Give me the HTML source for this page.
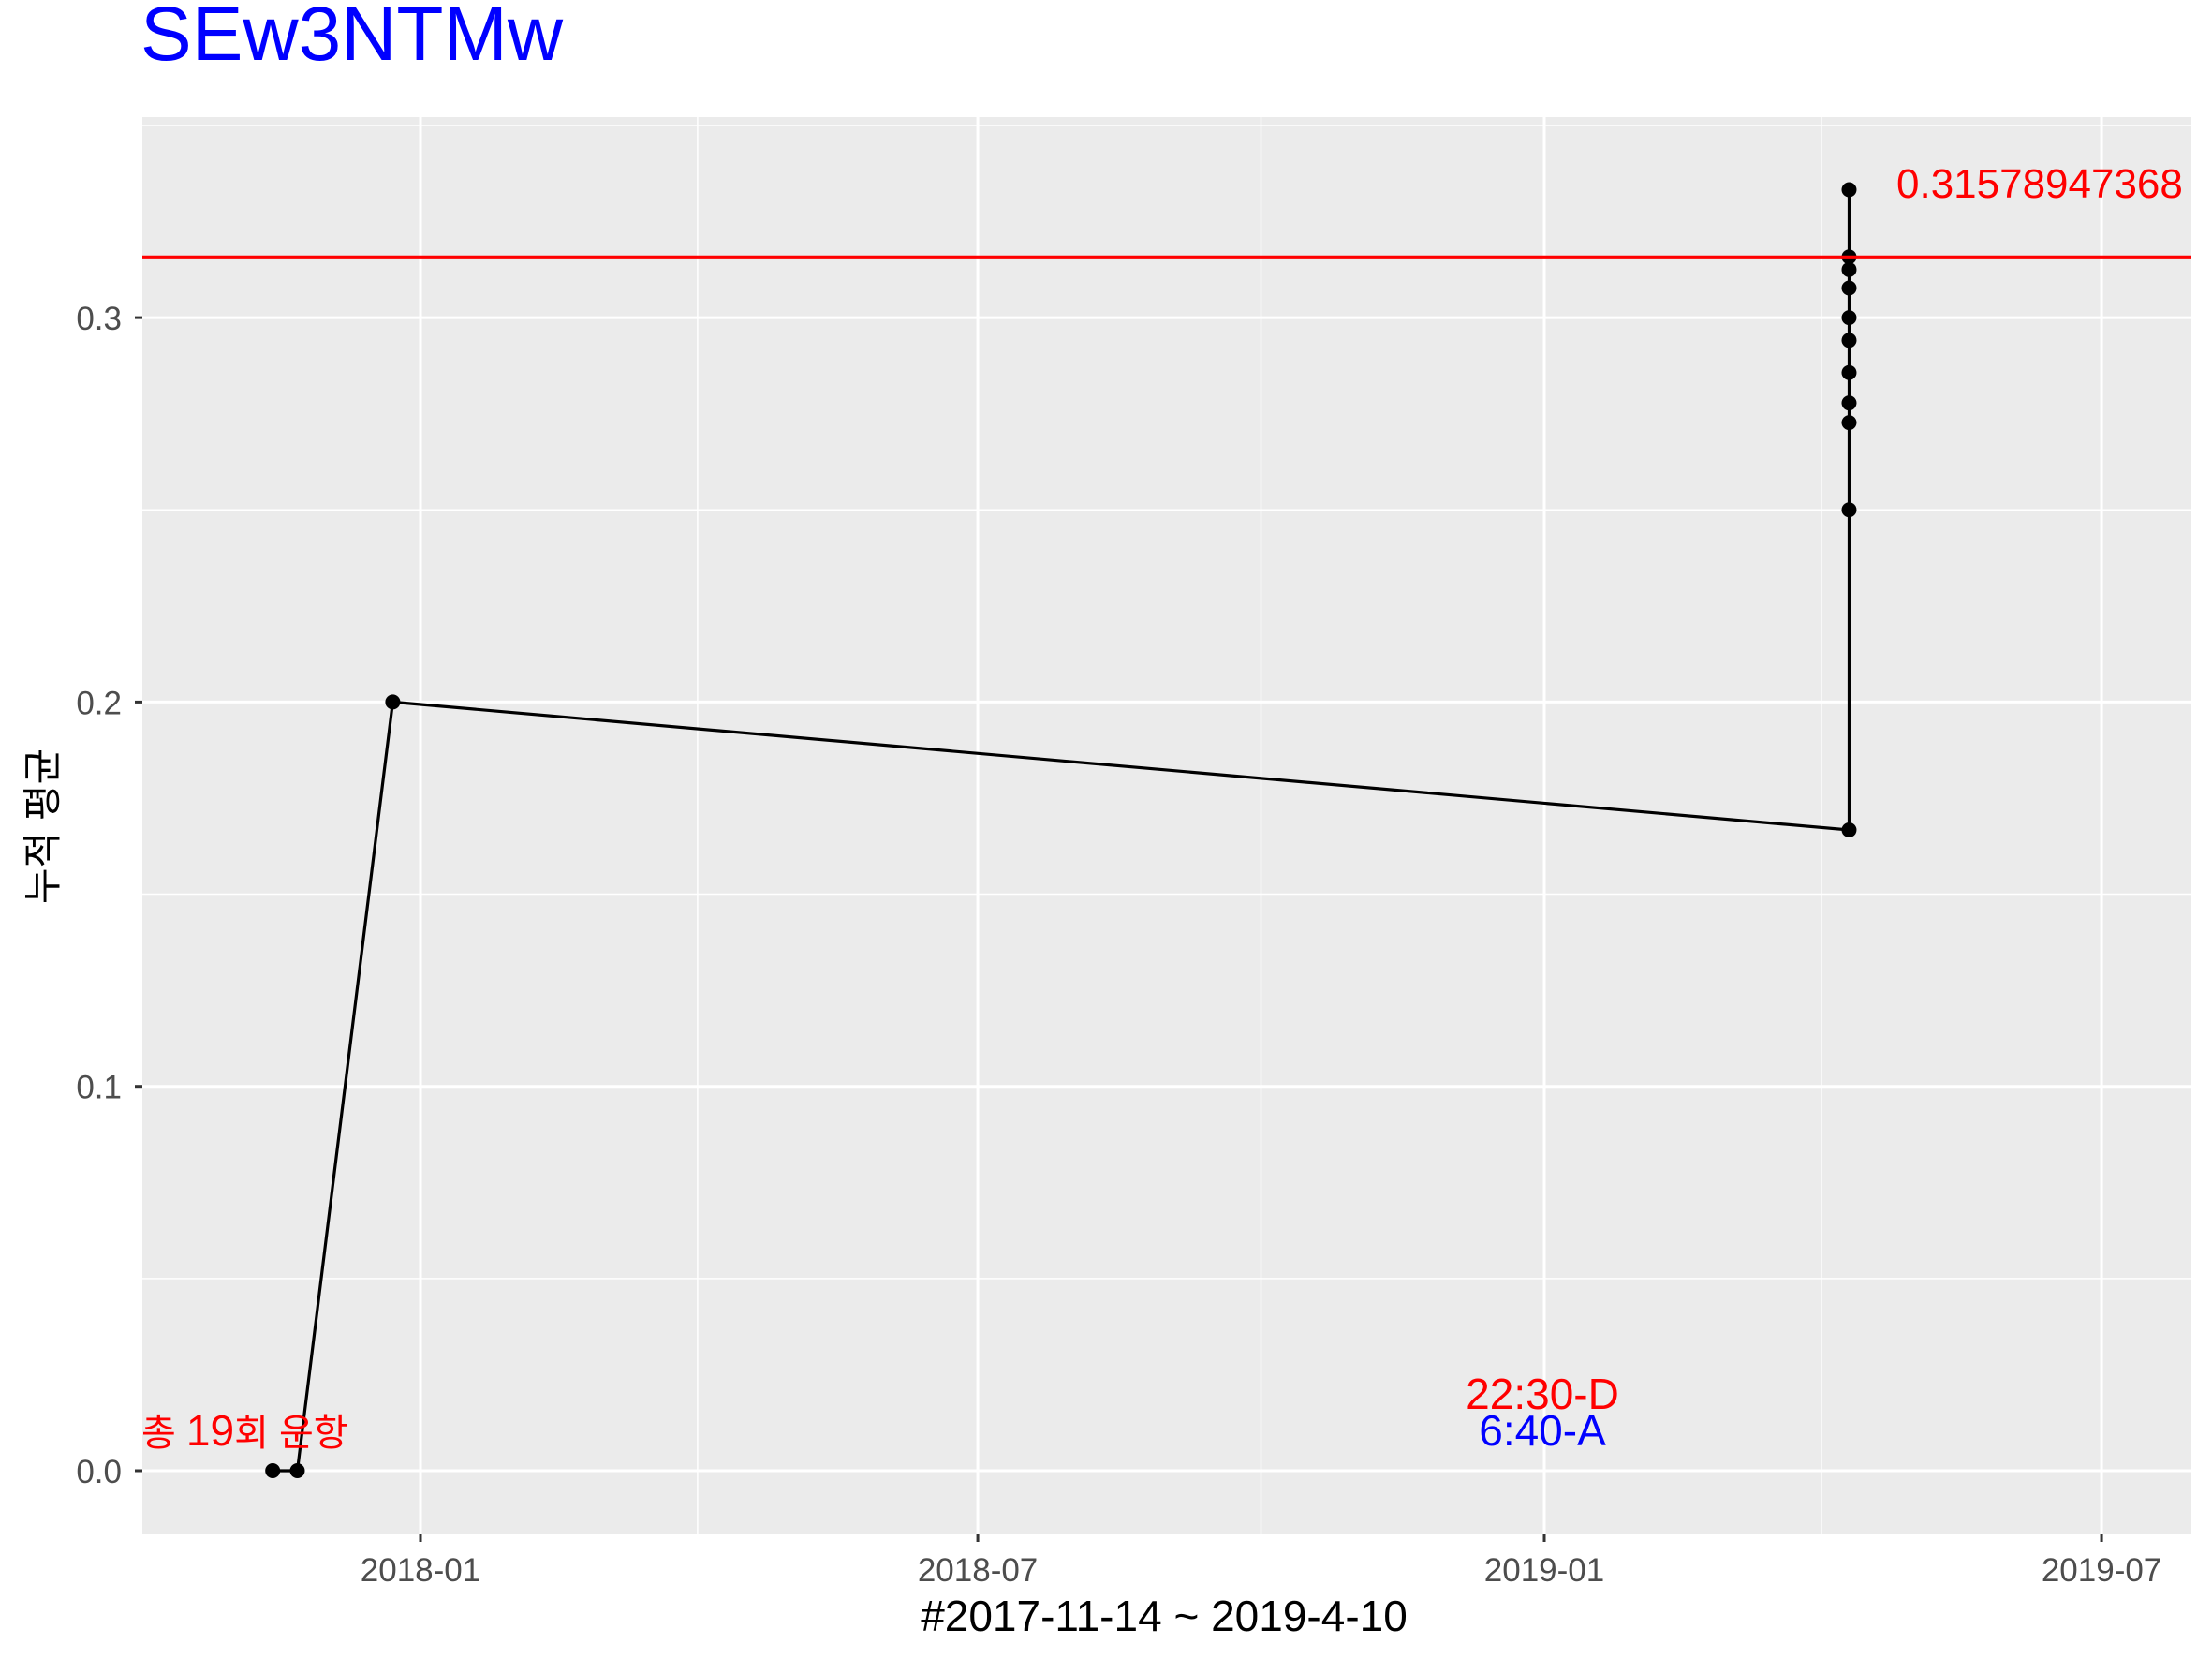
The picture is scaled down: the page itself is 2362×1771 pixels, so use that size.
<!DOCTYPE html>
<html><head><meta charset="utf-8"><style>
html,body{margin:0;padding:0;background:#fff;}
svg{display:block;font-family:"Liberation Sans","Noto Sans CJK KR",sans-serif;}
</style></head><body>
<svg id="chart" width="2362" height="1771" viewBox="0 0 2362 1771">
<text x="150" y="64" font-size="82" fill="#0000ff">SEw3NTMw</text>
<rect x="152" y="125" width="2188" height="1513" fill="#ebebeb"/>
<g id="grid"></g>
<g id="series"></g>
<g id="axes"></g>
<text x="1243" y="1741" font-size="46" text-anchor="middle" fill="#000">#2017-11-14 ~ 2019-4-10</text>
<text transform="translate(60,882) rotate(-90)" font-size="42" text-anchor="middle" fill="#000">누적 평균</text>
<text x="151" y="1543" font-size="40" fill="#ff0000">총 <tspan font-size="46">19</tspan>회 운항</text>
<text x="1647" y="1504" font-size="46" text-anchor="middle" fill="#ff0000">22:30-D</text>
<text x="1647" y="1543" font-size="46" text-anchor="middle" fill="#0000ff">6:40-A</text>
</svg>
<script>
const dates = ["2017-11-14","2017-11-22","2017-12-23","2019-04-10","2019-04-10","2019-04-10","2019-04-10","2019-04-10","2019-04-10","2019-04-10","2019-04-10","2019-04-10","2019-04-10","2019-04-10"];
const values = [0,0,0.2,0.1667,0.25,0.2727,0.2778,0.2857,0.2941,0.3,0.3077,0.3125,0.3333,0.3158];
const meanValue = [0.315789473684];
const meanLabel = ["0.31578947368"];
const yTicks = [0,0.1,0.2,0.3];
const yTickLabels = ["0.0","0.1","0.2","0.3"];
const xTicks = ["2018-01-01","2018-07-01","2019-01-01","2019-07-01"];
const xTickLabels = ["2018-01","2018-07","2019-01","2019-07"];
const xMinor = ["2017-10-01","2018-04-01","2018-10-01","2019-04-01"];
const yMinor = [0.05,0.15,0.25,0.35];

const NS="http://www.w3.org/2000/svg";
const P={l:152,r:2340,t:125,b:1638};
const d0=Date.parse("2018-01-01"), pxPerDay=(1649-449)/365;
function xs(d){return 449+(Date.parse(d)-d0)/86400000*pxPerDay;}
function ys(v){return 1570-v*4103;}
function mk(tag,attrs,parent){const e=document.createElementNS(NS,tag);for(const k in attrs)e.setAttribute(k,attrs[k]);parent.appendChild(e);return e;}
const grid=document.getElementById('grid'),ser=document.getElementById('series'),ax=document.getElementById('axes');
xMinor.forEach(d=>{const x=xs(d);if(x<P.l||x>P.r)return;
 const l=mk('line',{x1:x,x2:x,y1:P.t,y2:P.b,stroke:'#fff','stroke-width':1.5},grid);
 
 });
yMinor.forEach(v=>{const y=ys(v);if(y<P.t)return;
 const l=mk('line',{x1:P.l,x2:P.r,y1:y,y2:y,stroke:'#fff','stroke-width':1.5},grid);
 
 });
xTicks.forEach((d,i)=>{const x=xs(d);
 const l=mk('line',{x1:x,x2:x,y1:P.t,y2:P.b,stroke:'#fff','stroke-width':3},grid);
 
 
 const t=mk('line',{x1:x,x2:x,y1:P.b,y2:P.b+8,stroke:'#333','stroke-width':3},ax);
 
 
 const tx=mk('text',{x:x,y:P.b+50,'font-size':35,'text-anchor':'middle',fill:'#4d4d4d'},ax);
 tx.textContent=xTickLabels[i];
 
 });
yTicks.forEach((v,i)=>{const y=ys(v);
 const l=mk('line',{x1:P.l,x2:P.r,y1:y,y2:y,stroke:'#fff','stroke-width':3},grid);
 
 
 const t=mk('line',{x1:P.l-8,x2:P.l,y1:y,y2:y,stroke:'#333','stroke-width':3},ax);
 
 
 const tx=mk('text',{x:P.l-22,y:y+13,'font-size':35,'text-anchor':'end',fill:'#4d4d4d'},ax);
 tx.textContent=yTickLabels[i];
 
 });
const pts=dates.map((d,i)=>xs(d).toFixed(1)+','+ys(values[i]).toFixed(1)).join(' ');
const line=mk('polyline',{points:pts,fill:'none',stroke:'#000','stroke-width':3.2},ser);


dates.forEach((d,i)=>{const c=mk('circle',{cx:xs(d),cy:ys(values[i]),r:8,fill:'#000'},ser);
 
 });
const my=ys(meanValue[0]);
const ml=mk('line',{x1:P.l,x2:P.r,y1:my,y2:my,stroke:'#ff0000','stroke-width':3.2},ser);


const cp=mk('clipPath',{id:'pc'},ser);mk('rect',{x:P.l,y:P.t,width:P.r-P.l,height:P.b-P.t},cp);
const mt=mk('text',{x:2025,y:211,'font-size':44,fill:'#ff0000','clip-path':'url(#pc)'},ser);
mt.textContent=meanLabel[0];


</script>
</body></html>
